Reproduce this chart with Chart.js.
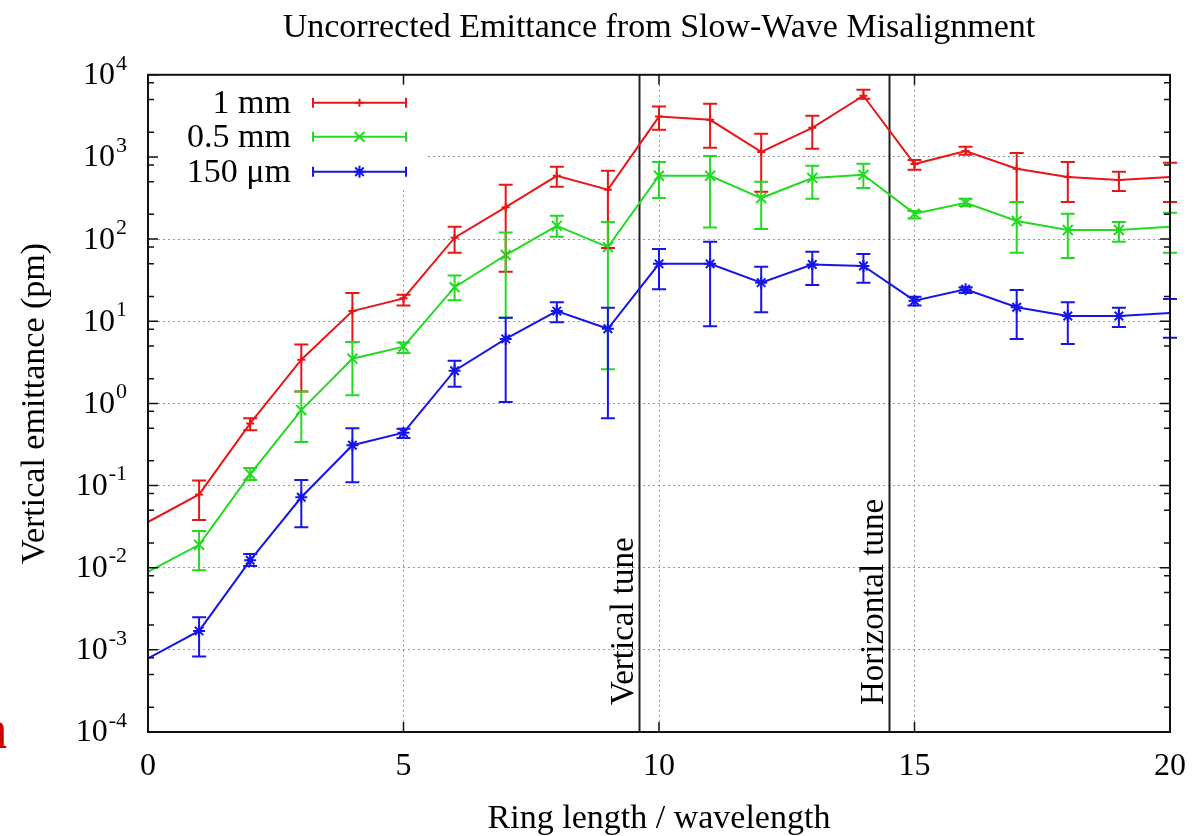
<!DOCTYPE html>
<html lang="en">
<head>
<meta charset="UTF-8">
<title>Uncorrected Emittance from Slow-Wave Misalignment</title>
<script src="https://cdn.jsdelivr.net/npm/chart.js"></script>
<style>
  body { margin: 0; background: #fff; }
  canvas { display: block; }
</style>
</head>
<body>
<canvas id="emittanceChart" width="1204" height="836"></canvas>
<script>
// ring length / wavelength
const ringLength = [0, 1, 2, 3, 4, 5, 6, 7, 8, 9, 10, 11, 12, 13, 14, 15, 16, 17, 18, 19, 20];

// 1 mm misalignment
const emit1mm     = [0.036, 0.078, 0.57, 3.4, 13.3, 19, 104, 245, 590, 400, 3100, 2830, 1150, 2260, 5560, 820, 1180, 720, 570, 525, 570];
const emit1mmLow  = [null, 0.038, 0.47, 1.4, 5.6, 15.5, 68, 40, 435, 78, 2140, 1290, 376, 1260, 5100, 700, 1060, 282, 282, 385, 282];
const emit1mmHigh = [null, 0.115, 0.66, 5.2, 22, 21, 141, 460, 760, 680, 4100, 4450, 1910, 3170, 6570, 920, 1330, 1120, 870, 660, 850];

// 0.5 mm misalignment
const emit05mm     = [0.0089, 0.019, 0.138, 0.83, 3.5, 4.9, 26, 64, 145, 80, 590, 590, 316, 555, 606, 204, 276, 166, 129, 129, 141];
const emit05mmLow  = [null, 0.0093, 0.117, 0.34, 1.26, 4.1, 18, 11, 107, 2.6, 316, 138, 133, 310, 420, 178, 252, 68, 59, 93, 68];
const emit05mmHigh = [null, 0.028, 0.164, 1.4, 5.6, 5.5, 36, 120, 192, 162, 870, 1030, 500, 780, 825, 220, 310, 282, 204, 162, 210];

// 150 um misalignment
const emit150um     = [0.00079, 0.0017, 0.0123, 0.072, 0.31, 0.44, 2.5, 6.1, 13.3, 8.1, 50, 50, 29.5, 49, 47, 17.8, 24.5, 14.8, 11.6, 11.6, 12.6];
const emit150umLow  = [null, 0.00083, 0.0105, 0.031, 0.11, 0.38, 1.6, 1.04, 9.7, 0.66, 24.5, 8.7, 12.9, 27.6, 29.5, 15.5, 22, 6.1, 5.3, 8.5, 6.3];
const emit150umHigh = [null, 0.0025, 0.0147, 0.117, 0.50, 0.49, 3.3, 11, 17, 14.6, 76, 93, 46, 70, 66, 19.9, 26, 24, 17, 14.6, 18.6];

const seriesNames = ['1 mm', '0.5 mm', '150 μm'];
const seriesColors = ['rgb(232,22,22)', 'rgb(34,218,34)', 'rgb(22,22,232)'];

const decades = [1e-4, 1e-3, 1e-2, 1e-1, 1e0, 1e1, 1e2, 1e3, 1e4];
const decadeExponents = ['-4', '-3', '-2', '-1', '0', '1', '2', '3', '4'];
const minorSteps = [2, 5, 8];
const xTicks = [0, 5, 10, 15, 20];

const tunePositions = [9.6, 14.5];
const tuneLabels = ['Vertical tune', 'Horizontal tune'];

const serif = '"Liberation Serif", "Times New Roman", serif';

function makeSeries(i, values, low, high, style, radius) {
  return {
    label: seriesNames[i],
    data: ringLength.map((x, k) => ({ x: x, y: values[k] })),
    errLow: low,
    errHigh: high,
    borderColor: seriesColors[i],
    backgroundColor: seriesColors[i],
    borderWidth: 2,
    pointStyle: style,
    pointRadius: ringLength.map(x => (x === 0 || x === 20) ? 0 : radius),
    pointBorderWidth: 2,
    pointBorderColor: seriesColors[i],
    tension: 0,
    fill: false
  };
}

const gnuplotLook = {
  id: 'gnuplotLook',
  beforeDatasetsDraw(chart) {
    const { ctx, chartArea: a, scales: { x } } = chart;
    ctx.save();
    // key box hides the grid underneath
    ctx.fillStyle = '#fff';
    ctx.fillRect(a.left + 1, a.top + 1, 278, 114);
    // tune markers
    ctx.strokeStyle = '#222';
    ctx.lineWidth = 2;
    tunePositions.forEach(t => {
      const px = Math.round(x.getPixelForValue(t)) + 0.5;
      ctx.beginPath();
      ctx.moveTo(px, a.top);
      ctx.lineTo(px, a.bottom);
      ctx.stroke();
    });
    ctx.restore();
  },
  afterDatasetsDraw(chart) {
    const { ctx, scales: { x, y } } = chart;
    ctx.save();
    ctx.lineWidth = 2;
    chart.data.datasets.forEach(ds => {
      ctx.strokeStyle = ds.borderColor;
      ringLength.forEach((xv, k) => {
        if (ds.errLow[k] == null) return;
        const px = x.getPixelForValue(xv);
        const y1 = y.getPixelForValue(ds.errLow[k]);
        const y2 = y.getPixelForValue(ds.errHigh[k]);
        ctx.beginPath();
        ctx.moveTo(px, y1); ctx.lineTo(px, y2);
        ctx.moveTo(px - 7, y1); ctx.lineTo(px + 7, y1);
        ctx.moveTo(px - 7, y2); ctx.lineTo(px + 7, y2);
        ctx.stroke();
      });
    });
    ctx.restore();
  },
  afterDraw(chart) {
    const { ctx, chartArea: a, scales: { x, y } } = chart;
    ctx.save();

    // frame
    ctx.strokeStyle = '#111';
    ctx.lineWidth = 2;
    ctx.strokeRect(a.left, a.top, a.right - a.left, a.bottom - a.top);

    // ticks on all four sides, pointing inward
    ctx.lineWidth = 1.5;
    ctx.beginPath();
    xTicks.forEach(v => {
      const px = x.getPixelForValue(v);
      ctx.moveTo(px, a.bottom); ctx.lineTo(px, a.bottom - 10);
      ctx.moveTo(px, a.top); ctx.lineTo(px, a.top + 10);
    });
    decades.forEach((d, k) => {
      const py = y.getPixelForValue(d);
      ctx.moveTo(a.left, py); ctx.lineTo(a.left + 10, py);
      ctx.moveTo(a.right, py); ctx.lineTo(a.right - 10, py);
      if (k < decades.length - 1) {
        minorSteps.forEach(m => {
          const my = y.getPixelForValue(d * m);
          ctx.moveTo(a.left, my); ctx.lineTo(a.left + 6, my);
          ctx.moveTo(a.right, my); ctx.lineTo(a.right - 6, my);
        });
      }
    });
    ctx.stroke();

    // y tick labels as 10 with a raised exponent
    ctx.fillStyle = '#000';
    ctx.textAlign = 'right';
    ctx.textBaseline = 'middle';
    decades.forEach((d, k) => {
      const py = y.getPixelForValue(d);
      ctx.font = '22px ' + serif;
      const ex = decadeExponents[k];
      const w = ctx.measureText(ex).width;
      ctx.fillText(ex, 127, py - 11);
      ctx.font = '32px ' + serif;
      ctx.fillText('10', 126 - w, py + 1);
    });

    // tune labels, rotated
    ctx.font = '33px ' + serif;
    ctx.textAlign = 'left';
    ctx.textBaseline = 'alphabetic';
    tunePositions.forEach((t, k) => {
      const px = x.getPixelForValue(t);
      ctx.save();
      ctx.translate(px - 6, a.bottom - 27);
      ctx.rotate(-Math.PI / 2);
      ctx.fillText(tuneLabels[k], 0, 0);
      ctx.restore();
    });

    // key
    const rows = [a.top + 28, a.top + 62, a.top + 97];
    const styles = ['cross', 'crossRot', 'star'];
    const radii = [4, 7, 6];
    chart.data.datasets.forEach((ds, k) => {
      const ry = rows[k];
      ctx.fillStyle = '#000';
      ctx.font = '34px ' + serif;
      ctx.textAlign = 'right';
      ctx.textBaseline = 'middle';
      ctx.fillText(ds.label, a.left + 143, ry + 1);
      ctx.strokeStyle = ds.borderColor;
      ctx.lineWidth = 2;
      const x1 = a.left + 165, x2 = a.left + 258;
      ctx.beginPath();
      ctx.moveTo(x1, ry); ctx.lineTo(x2, ry);
      ctx.moveTo(x1, ry - 5); ctx.lineTo(x1, ry + 5);
      ctx.moveTo(x2, ry - 5); ctx.lineTo(x2, ry + 5);
      ctx.stroke();
      Chart.helpers.drawPoint(ctx, { pointStyle: styles[k], radius: radii[k], borderWidth: 2 }, (x1 + x2) / 2, ry);
    });

    // stray red letter from the neighbouring slide
    ctx.fillStyle = '#cc0000';
    ctx.font = 'bold 56px ' + serif;
    ctx.textAlign = 'left';
    ctx.textBaseline = 'alphabetic';
    ctx.fillText('n', -24, 748);

    ctx.restore();
  }
};

const ctx = document.getElementById('emittanceChart').getContext('2d');

new Chart(ctx, {
  type: 'line',
  data: {
    datasets: [
      makeSeries(0, emit1mm, emit1mmLow, emit1mmHigh, 'cross', 4),
      makeSeries(1, emit05mm, emit05mmLow, emit05mmHigh, 'crossRot', 7),
      makeSeries(2, emit150um, emit150umLow, emit150umHigh, 'star', 6)
    ]
  },
  options: {
    responsive: false,
    animation: false,
    layout: { padding: { left: 0, right: 34, top: 0, bottom: 0 } },
    plugins: {
      legend: { display: false },
      tooltip: { enabled: false },
      title: {
        display: true,
        fullSize: false,
        text: 'Uncorrected Emittance from Slow-Wave Misalignment',
        color: '#000',
        font: { family: serif, size: 34, weight: 'normal', lineHeight: 1.2 },
        padding: { top: 8, bottom: 26 }
      }
    },
    scales: {
      x: {
        type: 'linear',
        min: 0,
        max: 20,
        afterBuildTicks: s => { s.ticks = xTicks.map(v => ({ value: v })); },
        afterFit: s => { s.height = 104; },
        ticks: {
          color: '#000',
          font: { family: serif, size: 32 },
          padding: 15,
          maxRotation: 0
        },
        grid: { color: '#999', lineWidth: 1, drawTicks: false },
        border: { display: false, dash: [2, 3] },
        title: {
          display: true,
          text: 'Ring length / wavelength',
          color: '#000',
          font: { family: serif, size: 34, lineHeight: 1 },
          padding: { top: 0, bottom: 0 }
        }
      },
      y: {
        type: 'logarithmic',
        min: 1e-4,
        max: 1e4,
        afterBuildTicks: s => { s.ticks = decades.map(v => ({ value: v })); },
        afterFit: s => { s.width = 148; },
        ticks: { display: false },
        grid: { color: '#999', lineWidth: 1, drawTicks: false },
        border: { display: false, dash: [2, 3] },
        title: {
          display: true,
          text: 'Vertical emittance (pm)',
          color: '#000',
          font: { family: serif, size: 34, lineHeight: 1 },
          padding: { top: 18, bottom: 0 }
        }
      }
    }
  },
  plugins: [gnuplotLook]
});
</script>
</body>
</html>
